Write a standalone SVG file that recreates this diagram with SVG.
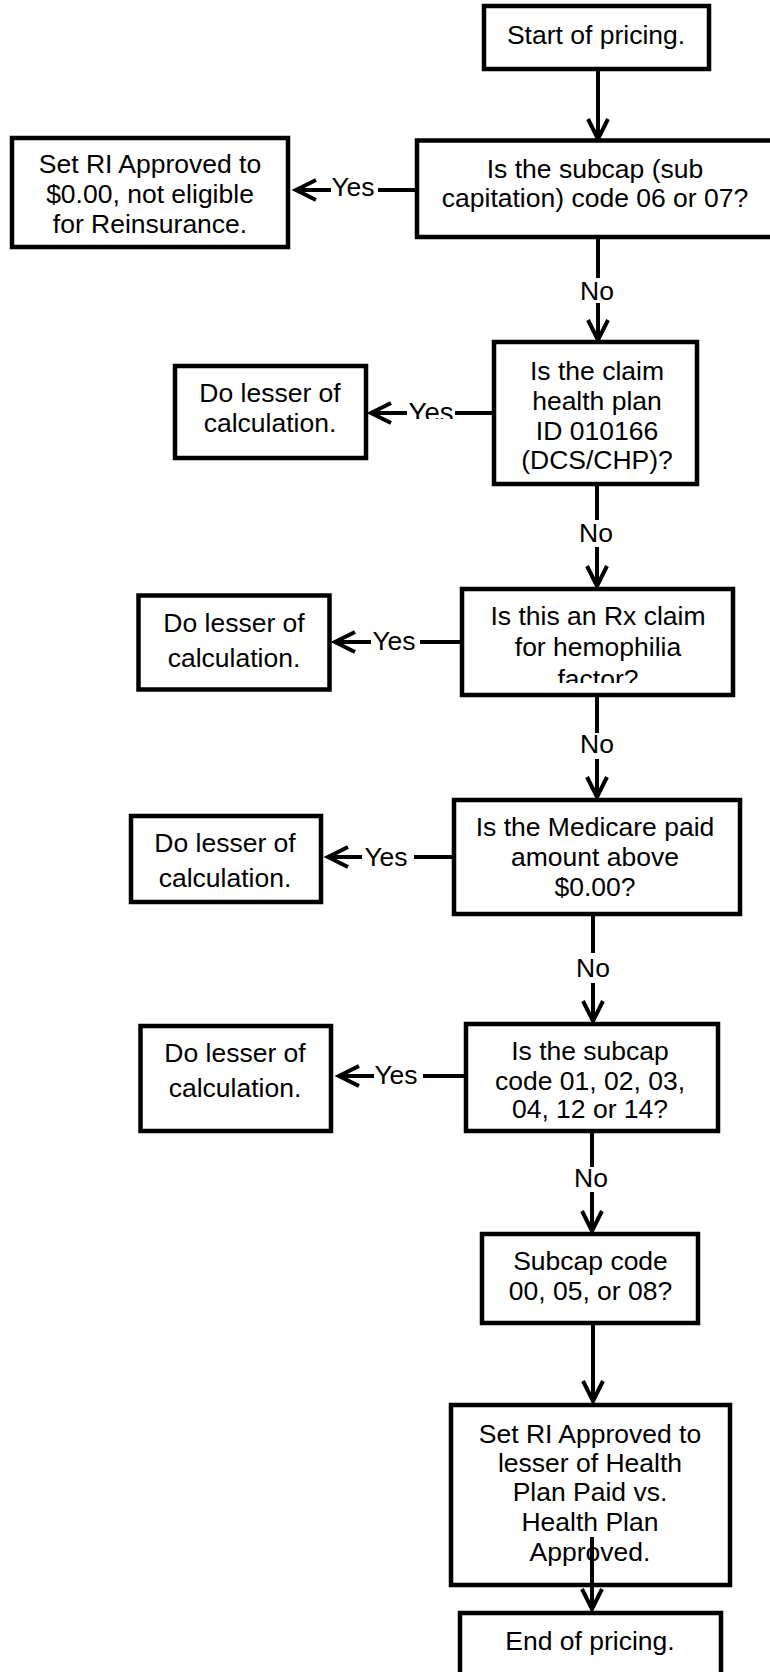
<svg xmlns="http://www.w3.org/2000/svg" width="770" height="1672" viewBox="0 0 770 1672">
<style>
  .box { fill: #ffffff; stroke: #000000; stroke-width: 4.5; }
  .t { font-family: "Liberation Sans", Arial, sans-serif; font-size: 26.5px; fill: #000000; text-anchor: middle; }
  .lbl { font-family: "Liberation Sans", Arial, sans-serif; font-size: 26.5px; fill: #000000; text-anchor: middle; }
  .ln { fill: none; stroke: #000000; stroke-width: 4; }
  .arr { fill: none; stroke: #000000; stroke-width: 4; marker-end: url(#chev); }
</style>
<defs>
  <marker id="chev" markerUnits="userSpaceOnUse" viewBox="-24 -14 28 28" refX="0" refY="0" markerWidth="28" markerHeight="28" orient="auto" overflow="visible">
    <path d="M-20,-10 L0,0 L-20,10" fill="none" stroke="#000000" stroke-width="4" stroke-linejoin="miter"/>
  </marker>
  <clipPath id="clipYes2"><rect x="400" y="390" width="60" height="29"/></clipPath>
  <clipPath id="clipN4"><rect x="462" y="589" width="271" height="94"/></clipPath>
</defs>
<rect width="770" height="1672" fill="#ffffff"/>

<g id="connectors">
  <!-- start to subcap -->
  <line class="arr" x1="598" y1="70" x2="598" y2="139"/>
  <!-- yes 1 -->
  <line class="ln" x1="417" y1="190" x2="378" y2="190"/>
  <text class="lbl" x="353" y="196">Yes</text>
  <line class="arr" x1="331" y1="190" x2="296" y2="190"/>
  <!-- no 1 -->
  <line class="ln" x1="598" y1="237" x2="598" y2="278"/>
  <text class="lbl" x="597" y="300">No</text>
  <line class="arr" x1="598" y1="303" x2="598" y2="340"/>
  <!-- yes 2 -->
  <line class="ln" x1="496" y1="413" x2="455" y2="413"/>
  <text class="lbl" x="431" y="422" style="font-size:27.5px" clip-path="url(#clipYes2)">Yes</text>
  <line class="arr" x1="407" y1="413" x2="371" y2="413"/>
  <!-- no 2 -->
  <line class="ln" x1="597" y1="484" x2="597" y2="520"/>
  <text class="lbl" x="596" y="542">No</text>
  <line class="arr" x1="597" y1="547" x2="597" y2="586"/>
  <!-- yes 3 -->
  <line class="ln" x1="462" y1="642" x2="420" y2="642"/>
  <text class="lbl" x="394" y="650">Yes</text>
  <line class="arr" x1="371" y1="642" x2="335" y2="642"/>
  <!-- no 3 -->
  <line class="ln" x1="597" y1="695" x2="597" y2="733"/>
  <text class="lbl" x="597" y="753">No</text>
  <line class="arr" x1="597" y1="759" x2="597" y2="797"/>
  <!-- yes 4 -->
  <line class="ln" x1="454" y1="857" x2="414" y2="857"/>
  <text class="lbl" x="386" y="866">Yes</text>
  <line class="arr" x1="362" y1="857" x2="328" y2="857"/>
  <!-- no 4 -->
  <line class="ln" x1="593" y1="914" x2="593" y2="953"/>
  <text class="lbl" x="593" y="977">No</text>
  <line class="arr" x1="593" y1="983" x2="593" y2="1021"/>
  <!-- yes 5 -->
  <line class="ln" x1="466" y1="1076" x2="423" y2="1076"/>
  <text class="lbl" x="396" y="1084">Yes</text>
  <line class="arr" x1="374" y1="1076" x2="339" y2="1076"/>
  <!-- no 5 -->
  <line class="ln" x1="592" y1="1131" x2="592" y2="1167"/>
  <text class="lbl" x="591" y="1187">No</text>
  <line class="arr" x1="592" y1="1192" x2="592" y2="1231"/>
  <!-- subcap 00 to set RI -->
  <line class="arr" x1="593" y1="1323" x2="593" y2="1401"/>
</g>

<g id="n-start">
  <rect class="box" x="484" y="6" width="225" height="63"/>
  <text class="t" x="596" y="44">Start of pricing.</text>
</g>

<g id="n-subcap-0607">
  <rect class="box" x="417" y="140.5" width="370" height="96.5"/>
  <text class="t" x="595" y="178">Is the subcap (sub</text>
  <text class="t" x="595" y="207">capitation) code 06 or 07?</text>
</g>

<g id="n-not-eligible">
  <rect class="box" x="12" y="138" width="276" height="109"/>
  <text class="t" x="150" y="173">Set RI Approved to</text>
  <text class="t" x="150" y="203">$0.00, not eligible</text>
  <text class="t" x="150" y="233">for Reinsurance.</text>
</g>

<g id="n-healthplan">
  <rect class="box" x="494" y="342" width="203" height="142"/>
  <text class="t" x="597" y="380">Is the claim</text>
  <text class="t" x="597" y="410">health plan</text>
  <text class="t" x="597" y="440">ID 010166</text>
  <text class="t" x="597" y="469">(DCS/CHP)?</text>
</g>

<g id="n-lesser-1">
  <rect class="box" x="175" y="366" width="191" height="92"/>
  <text class="t" x="270" y="402">Do lesser of</text>
  <text class="t" x="270" y="432">calculation.</text>
</g>

<g id="n-rx">
  <rect class="box" x="462" y="589" width="271" height="106"/>
  <g clip-path="url(#clipN4)">
    <text class="t" x="598" y="625">Is this an Rx claim</text>
    <text class="t" x="598" y="656">for hemophilia</text>
    <text class="t" x="598" y="688">factor?</text>
  </g>
</g>

<g id="n-lesser-2">
  <rect class="box" x="138.5" y="595.5" width="191" height="94"/>
  <text class="t" x="234" y="632">Do lesser of</text>
  <text class="t" x="234" y="667">calculation.</text>
</g>

<g id="n-medicare">
  <rect class="box" x="454" y="800" width="286" height="114"/>
  <text class="t" x="595" y="836">Is the Medicare paid</text>
  <text class="t" x="595" y="866">amount above</text>
  <text class="t" x="595" y="896">$0.00?</text>
</g>

<g id="n-lesser-3">
  <rect class="box" x="131" y="816" width="190" height="86"/>
  <text class="t" x="225" y="852">Do lesser of</text>
  <text class="t" x="225" y="887">calculation.</text>
</g>

<g id="n-subcap-list">
  <rect class="box" x="466" y="1024" width="252" height="107"/>
  <text class="t" x="590" y="1060">Is the subcap</text>
  <text class="t" x="590" y="1090">code 01, 02, 03,</text>
  <text class="t" x="590" y="1118">04, 12 or 14?</text>
</g>

<g id="n-lesser-4">
  <rect class="box" x="140.5" y="1026" width="190.5" height="105"/>
  <text class="t" x="235" y="1062">Do lesser of</text>
  <text class="t" x="235" y="1097">calculation.</text>
</g>

<g id="n-subcap-000508">
  <rect class="box" x="482" y="1234" width="216" height="89"/>
  <text class="t" x="590.5" y="1270">Subcap code</text>
  <text class="t" x="590.5" y="1300">00, 05, or 08?</text>
</g>

<g id="n-set-lesser">
  <rect class="box" x="451" y="1405" width="279" height="180"/>
  <text class="t" x="590" y="1443">Set RI Approved to</text>
  <text class="t" x="590" y="1472">lesser of Health</text>
  <text class="t" x="590" y="1501">Plan Paid vs.</text>
  <text class="t" x="590" y="1531">Health Plan</text>
  <text class="t" x="590" y="1561">Approved.</text>
</g>

<g id="n-end">
  <rect class="box" x="460" y="1613" width="261" height="70"/>
  <text class="t" x="590" y="1650">End of pricing.</text>
</g>

<g id="connector-final">
  <line class="arr" x1="592" y1="1537" x2="592" y2="1609"/>
</g>
</svg>
